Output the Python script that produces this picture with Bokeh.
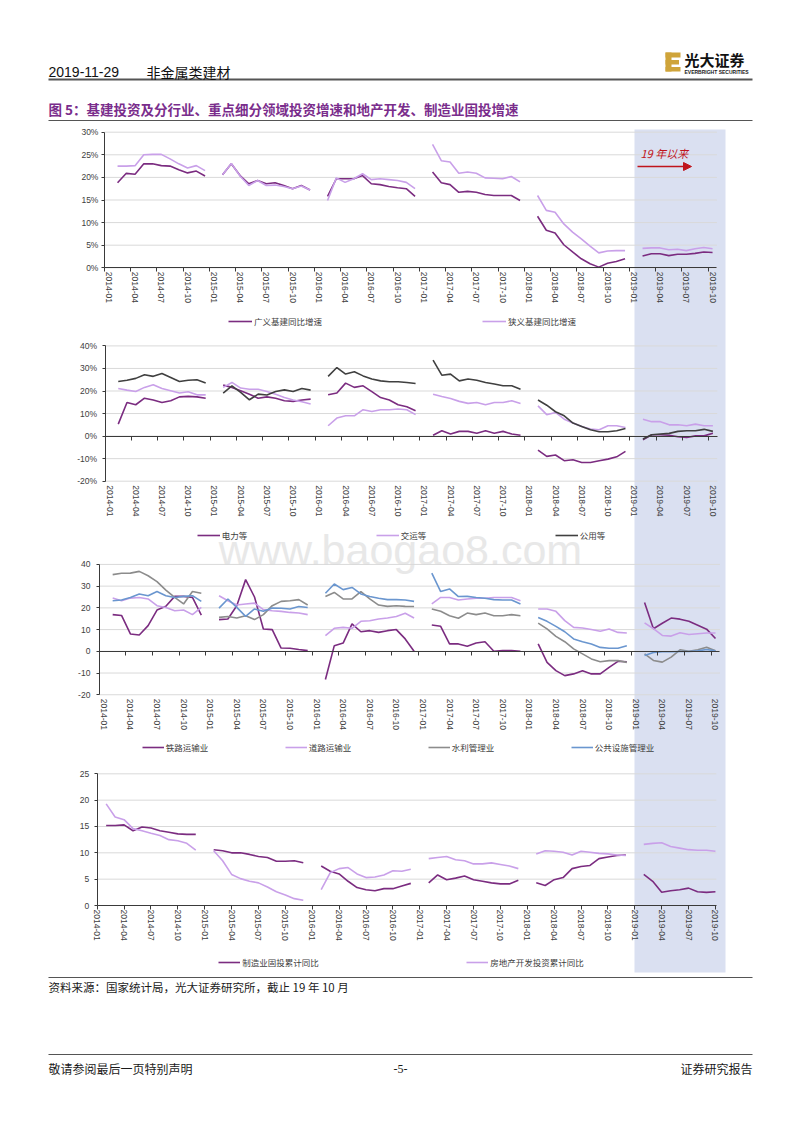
import numpy as np
import pandas as pd
from bokeh.plotting import figure
from bokeh.models import (Range1d, LinearAxis, FixedTicker, PrintfTickFormatter, Legend,
                          LegendItem, Label, BoxAnnotation, Arrow, NormalHead)
from bokeh.embed import file_html
from bokeh.resources import INLINE

# ---------------------------------------------------------------- data
# Month labels on the category axis (January figures are not published,
# so every yearly block below runs Feb..Dec, and 2019 runs Feb..Oct).
MONTHS = [m.strftime("%Y-%m") for m in pd.period_range("2014-01", "2019-10", freq="M")]

# Panel 1: infrastructure investment, YoY %
INFRA_BROAD = [
    [18.8, 20.9, 20.7, 23.0, 23.0, 22.6, 22.5, 21.7, 21.0, 21.4, 20.3],
    [20.6, 23.0, 20.4, 18.6, 19.3, 18.6, 18.8, 18.2, 17.5, 18.2, 17.2],
    [15.8, 19.7, 19.7, 19.7, 20.4, 18.6, 18.4, 18.0, 17.7, 17.5, 15.8],
    [21.2, 18.8, 18.4, 16.7, 16.9, 16.7, 16.2, 16.0, 16.0, 16.0, 14.9],
    [11.4, 8.3, 7.7, 5.1, 3.5, 2.0, 0.9, 0.15, 1.0, 1.4, 2.0],
    [2.6, 3.1, 3.1, 2.7, 3.0, 3.0, 3.2, 3.5, 3.4],
]
INFRA_NARROW = [
    [22.5, 22.5, 22.6, 25.0, 25.1, 25.1, 24.1, 23.0, 22.1, 22.6, 21.5],
    [20.6, 23.1, 20.3, 18.2, 19.3, 18.2, 18.3, 18.0, 17.5, 18.1, 17.2],
    [14.9, 19.9, 18.9, 19.7, 20.8, 19.5, 19.7, 19.5, 19.3, 18.9, 17.5],
    [27.3, 23.7, 23.4, 20.9, 21.2, 20.9, 19.9, 19.8, 19.7, 20.2, 19.0],
    [16.0, 12.7, 12.3, 9.7, 7.9, 6.4, 4.8, 3.3, 3.7, 3.8, 3.8],
    [4.3, 4.4, 4.4, 4.0, 4.1, 3.8, 4.2, 4.5, 4.2],
]

# Panel 2: sub-sectors, YoY %
POWER = [
    [5.3, 14.9, 13.9, 16.8, 16.0, 14.9, 15.7, 17.4, 17.6, 17.4, 16.8],
    [22.6, 21.6, 20.1, 18.6, 16.8, 17.4, 16.8, 15.7, 15.4, 16.0, 16.4],
    [18.3, 19.1, 23.5, 21.6, 22.3, 19.7, 17.1, 16.0, 13.9, 13.0, 11.2],
    [0.4, 2.4, 0.9, 2.1, 2.1, 1.3, 2.4, 1.3, 2.1, 0.9, 0.4],
    [-6.2, -9.0, -8.4, -10.9, -10.5, -11.7, -11.7, -10.9, -10.2, -9.2, -6.8],
    [-1.6, 0.6, 0.6, 0.4, -0.3, -0.6, 0.1, 0.1, 1.3],
]
TRANSPORT = [
    [21.1, 20.4, 19.8, 21.6, 22.8, 21.1, 20.1, 19.1, 19.7, 18.3, 18.3],
    [21.6, 23.8, 21.3, 20.8, 20.8, 19.8, 18.6, 17.1, 16.0, 15.2, 14.2],
    [4.6, 8.0, 9.0, 9.0, 11.7, 10.9, 11.7, 11.7, 12.0, 11.7, 9.5],
    [18.6, 17.6, 16.7, 15.4, 14.5, 14.9, 13.9, 14.9, 14.9, 15.7, 14.5],
    [13.4, 9.5, 10.5, 7.5, 5.8, 4.3, 3.1, 2.8, 4.6, 4.6, 3.8],
    [7.5, 6.4, 6.4, 5.0, 5.0, 4.6, 5.3, 4.6, 4.6],
]
UTILITIES = [
    [24.2, 24.8, 25.6, 27.2, 26.5, 27.8, 26.0, 24.2, 24.8, 25.0, 23.5],
    [19.1, 22.3, 19.4, 16.1, 18.6, 18.2, 19.8, 20.5, 19.8, 21.1, 20.4],
    [26.5, 30.4, 27.5, 28.5, 26.7, 25.3, 24.5, 24.1, 24.1, 23.8, 23.3],
    [33.7, 27.0, 27.5, 24.5, 25.3, 24.8, 23.8, 23.1, 22.3, 22.3, 20.8],
    [16.0, 13.7, 10.8, 9.0, 5.8, 4.3, 2.8, 1.9, 1.9, 2.4, 3.4],
    [-1.3, 0.6, 0.9, 1.2, 2.1, 2.4, 2.4, 3.0, 2.1],
]

# Panel 3: key segments, YoY %
RAILWAY = [
    [16.9, 16.5, 8.0, 7.5, 11.8, 19.0, 20.7, 25.3, 25.3, 24.8, 16.7],
    [14.6, 14.9, 21.0, 33.0, 25.0, 10.3, 10.0, 1.5, 1.4, 0.8, 0.3],
    [-13.0, 2.6, 3.8, 12.6, 9.0, 9.5, 8.7, 9.5, 10.0, 5.7, 0.0],
    [12.1, 11.5, 3.4, 3.4, 2.3, 3.8, 4.4, 0.0, 0.3, 0.3, 0.0],
    [3.4, -5.1, -8.9, -11.2, -10.4, -8.9, -10.4, -10.4, -7.4, -4.6, -4.8],
    [22.5, 10.4, 12.9, 15.3, 14.8, 13.8, 12.0, 10.2, 5.9],
]
ROAD = [
    [24.5, 23.3, 24.5, 24.8, 24.1, 21.0, 20.2, 18.7, 19.0, 16.9, 20.2],
    [25.6, 23.3, 21.3, 21.8, 22.2, 19.2, 18.7, 18.4, 17.9, 17.6, 16.9],
    [7.2, 10.6, 11.0, 10.6, 13.8, 14.1, 14.9, 15.3, 16.0, 17.5, 15.3],
    [21.8, 24.8, 24.8, 23.6, 24.1, 24.5, 24.4, 24.8, 24.8, 24.8, 23.3],
    [19.5, 19.5, 18.4, 14.1, 11.0, 10.7, 10.0, 9.2, 10.3, 8.7, 8.4],
    [13.1, 10.4, 7.3, 7.0, 8.5, 7.7, 8.1, 8.4, 8.4],
]
WATER = [
    [35.3, 35.9, 36.0, 36.8, 34.8, 32.1, 28.2, 24.8, 21.8, 27.5, 26.7],
    [15.6, 16.0, 15.3, 16.4, 14.6, 16.9, 21.0, 23.0, 23.3, 23.8, 21.3],
    [25.2, 27.1, 24.1, 24.1, 27.5, 24.1, 21.3, 20.7, 21.0, 20.7, 20.6],
    [19.5, 18.4, 16.4, 15.2, 17.6, 16.9, 17.6, 16.4, 16.4, 16.9, 16.4],
    [13.0, 10.3, 6.9, 4.4, 1.1, -1.2, -3.5, -4.8, -4.3, -4.3, -5.1],
    [-1.2, -4.2, -5.0, -2.7, 0.7, 0.0, 0.7, 1.9, 0.3],
]
PUBLIC_FAC = [
    [23.3, 23.6, 24.8, 26.4, 25.6, 27.5, 25.6, 24.8, 25.3, 25.6, 23.0],
    [19.9, 24.1, 20.2, 16.1, 19.5, 18.4, 19.9, 19.8, 19.5, 20.6, 20.2],
    [26.7, 31.0, 28.4, 29.4, 26.4, 25.2, 24.4, 23.8, 23.8, 23.6, 23.0],
    [36.0, 27.5, 28.7, 25.2, 25.3, 24.8, 24.4, 23.8, 23.6, 23.6, 21.8],
    [15.6, 13.8, 11.5, 9.0, 5.7, 4.4, 3.4, 1.8, 1.4, 1.4, 2.6],
    [-1.9, -0.5, -0.2, -0.2, -0.1, -0.1, 0.2, 0.8, 0.2],
]

# Panel 4: cumulative YoY %
MANUFACTURING = [
    [15.2, 15.2, 15.3, 14.2, 14.9, 14.7, 14.2, 13.9, 13.6, 13.5, 13.5],
    [10.6, 10.4, 10.0, 10.0, 9.7, 9.3, 9.1, 8.4, 8.4, 8.5, 8.1],
    [7.5, 6.5, 6.0, 4.6, 3.4, 3.0, 2.8, 3.2, 3.2, 3.7, 4.2],
    [4.3, 5.8, 4.9, 5.2, 5.6, 4.9, 4.6, 4.3, 4.1, 4.1, 4.8],
    [4.3, 3.8, 4.9, 5.3, 7.0, 7.4, 7.6, 8.9, 9.2, 9.5, 9.6],
    [5.9, 4.6, 2.5, 2.8, 3.0, 3.3, 2.6, 2.5, 2.6],
]
REAL_ESTATE = [
    [19.3, 16.8, 16.3, 14.6, 14.2, 13.7, 13.3, 12.5, 12.3, 11.8, 10.5],
    [10.4, 8.5, 5.9, 5.1, 4.6, 4.3, 3.5, 2.6, 2.0, 1.3, 1.0],
    [3.0, 6.2, 7.0, 7.2, 6.0, 5.3, 5.4, 5.8, 6.6, 6.5, 6.9],
    [8.9, 9.1, 9.3, 8.7, 8.5, 7.9, 7.9, 8.1, 7.8, 7.5, 7.0],
    [9.8, 10.4, 10.3, 10.1, 9.6, 10.3, 10.1, 9.9, 9.8, 9.6, 9.5],
    [11.6, 11.8, 11.9, 11.2, 10.9, 10.6, 10.5, 10.5, 10.3],
]

Y_TICKS_1 = [0, 5, 10, 15, 20, 25, 30]
Y_TICKS_2 = [-20, -10, 0, 10, 20, 30, 40]
Y_TICKS_3 = [-20, -10, 0, 10, 20, 30, 40]
Y_TICKS_4 = [0, 5, 10, 15, 20, 25]


def monthly(years):
    """Flatten yearly blocks into one series; January stays empty (gap)."""
    out = []
    for vals in years:
        out.append(None)
        out.extend(vals)
    return np.array(out, dtype=float)


IDX = np.arange(len(MONTHS))

# ---------------------------------------------------------------- styling
DARK_PURPLE = "#7b2c80"
LIGHT_PURPLE = "#c9a0e9"
DARK_GREY = "#404040"
MID_GREY = "#8c8c8c"
BLUE = "#6a96cf"
GRID = "#d9d9d9"
AXIS = "#3a3a3a"
TXT = "#404040"
GOLD = "#cfa43a"
NUM_FONT = "Liberation Sans"
CJK_FONT = "Noto Sans CJK SC"
W, H = 800, 1132

p = figure(width=W, height=H, x_range=Range1d(0, W), y_range=Range1d(H, 0),
           x_axis_type=None, y_axis_type=None, toolbar_location=None,
           output_backend="svg", min_border=0, outline_line_color=None,
           background_fill_color="white", border_fill_color="white")

# 2019 highlight band (behind everything)
p.add_layout(BoxAnnotation(left=634, right=725, top=129, bottom=972,
                           fill_color="#dae0f1", fill_alpha=1.0, line_color=None,
                           level="underlay"))

p.add_layout(Label(x=400, y=549, text="www.baogao8.com", text_align="center",
                   text_baseline="middle", text_font=NUM_FONT, text_font_size="43px",
                   text_color="#e8e8e8", level="underlay"))

# panel geometry: month i -> x0 + pitch*i px ; value v -> y0 - ppu*v px
LAYOUT = {
    "1": dict(x0=108.3, pitch=8.75, y0=267.3, ppu=4.52),
    "2": dict(x0=109.0, pitch=8.745, y0=435.6, ppu=2.255),
    "3": dict(x0=103.3, pitch=8.865, y0=650.8, ppu=2.172),
    "4": dict(x0=96.7, pitch=8.96, y0=905.0, ppu=5.267),
}
for k, g in LAYOUT.items():
    p.extra_x_ranges["x" + k] = Range1d(-g["x0"] / g["pitch"], (W - g["x0"]) / g["pitch"])
    p.extra_y_ranges["y" + k] = Range1d((g["y0"] - H) / g["ppu"], g["y0"] / g["ppu"])

LABEL_TICKS = list(range(0, len(MONTHS), 3))


def panel_axes(k, yticks, yfmt, ax_x, x_end, boundary_ticks, label_at, y_standoff):
    xr, yr = "x" + k, "y" + k
    # horizontal gridlines
    n = len(yticks)
    p.segment(x0=[ax_x] * n, x1=[x_end] * n, y0=yticks, y1=yticks,
              x_range_name=xr, y_range_name=yr, line_color=GRID, line_width=1)
    # x axis line with tick marks at the zero line
    tick_pos = [t - 0.5 for t in LABEL_TICKS] if boundary_ticks else LABEL_TICKS
    xa = LinearAxis(x_range_name=xr, y_range_name=yr, fixed_location=0,
                    ticker=FixedTicker(ticks=tick_pos), bounds=(ax_x, x_end),
                    formatter=PrintfTickFormatter(format=""),
                    axis_line_color=AXIS, axis_line_width=1,
                    major_tick_line_color=AXIS, major_tick_out=4, major_tick_in=0,
                    minor_tick_line_color=None)
    p.add_layout(xa, "below")
    # month labels along the bottom of the panel
    xl = LinearAxis(x_range_name=xr, y_range_name=yr, fixed_location=label_at,
                    ticker=FixedTicker(ticks=LABEL_TICKS),
                    major_label_overrides={i: MONTHS[i] for i in LABEL_TICKS},
                    axis_line_color=None, major_tick_line_color=None,
                    minor_tick_line_color=None, major_tick_out=0, major_tick_in=0,
                    major_label_orientation="vertical", major_label_standoff=4,
                    major_label_text_font=NUM_FONT, major_label_text_font_size="8.5px",
                    major_label_text_color=TXT)
    p.add_layout(xl, "below")
    ya = LinearAxis(x_range_name=xr, y_range_name=yr, fixed_location=ax_x,
                    ticker=FixedTicker(ticks=yticks), bounds=(min(yticks), max(yticks)),
                    formatter=PrintfTickFormatter(format=yfmt),
                    axis_line_color=AXIS, axis_line_width=1,
                    major_tick_line_color=AXIS, major_tick_out=3, major_tick_in=0,
                    minor_tick_line_color=None, major_label_standoff=y_standoff,
                    major_label_text_font=NUM_FONT, major_label_text_font_size="8.5px",
                    major_label_text_color=TXT)
    p.add_layout(ya, "left")


def panel_lines(k, series):
    rs = []
    for name, data, color in series:
        r = p.line(IDX, monthly(data), x_range_name="x" + k, y_range_name="y" + k,
                   line_color=color, line_width=1.6)
        rs.append((name, r))
    return rs


def panel_legend(rs, x, y_center, glyph_w, pitch):
    item_h = 12
    leg = Legend(items=[LegendItem(label=n, renderers=[r]) for n, r in rs],
                 orientation="horizontal", location=(x, H - y_center - item_h / 2),
                 glyph_width=glyph_w, glyph_height=item_h, label_height=item_h,
                 label_width=int(round(pitch - glyph_w - 2)), label_standoff=2, spacing=0,
                 padding=0, margin=0, border_line_color=None, background_fill_alpha=0,
                 label_text_font=CJK_FONT, label_text_font_size="8.5px",
                 label_text_color=TXT)
    p.add_layout(leg)


# Panel 1
panel_axes("1", Y_TICKS_1, "%d%%", -0.5, 69.5, True, 0, 3)
r1 = panel_lines("1", [("广义基建同比增速", INFRA_BROAD, DARK_PURPLE),
                       ("狭义基建同比增速", INFRA_NARROW, LIGHT_PURPLE)])
panel_legend(r1, 228, 321, 24, 253.7)

# Panel 2
panel_axes("2", Y_TICKS_2, "%d%%", -0.5, 69.5, True, -20, 5)
r2 = panel_lines("2", [("电力等", POWER, DARK_PURPLE),
                       ("交运等", TRANSPORT, LIGHT_PURPLE),
                       ("公用等", UTILITIES, DARK_GREY)])
panel_legend(r2, 196.7, 535, 23, 178.7)

# Panel 3
panel_axes("3", Y_TICKS_3, "%d", -0.5, 69.5, True, -20, 6)
r3 = panel_lines("3", [("铁路运输业", RAILWAY, DARK_PURPLE),
                       ("道路运输业", ROAD, LIGHT_PURPLE),
                       ("水利管理业", WATER, MID_GREY),
                       ("公共设施管理业", PUBLIC_FAC, BLUE)])
panel_legend(r3, 141.7, 746.7, 22, 143.3)

# Panel 4
panel_axes("4", Y_TICKS_4, "%d", 0, 69.1, False, 0, 5)
r4 = panel_lines("4", [("制造业固投累计同比", MANUFACTURING, DARK_PURPLE),
                       ("房地产开发投资累计同比", REAL_ESTATE, LIGHT_PURPLE)])
panel_legend(r4, 218.3, 961.7, 22, 247.7)

# "since 2019" note with arrow
p.add_layout(Label(x=640, y=152, text="19 年以来", text_font=CJK_FONT,
                   text_font_style="italic", text_font_size="11px", text_color="#c0141c",
                   text_baseline="middle"))
p.add_layout(Arrow(end=NormalHead(size=8, fill_color="#c0141c", line_color="#c0141c"),
                   x_start=637, y_start=166, x_end=691, y_end=166,
                   line_color="#c0141c", line_width=1.5))

# ---------------------------------------------------------------- page furniture
rules_y = [79, 120, 977, 1054]
p.segment(x0=[48] * 4, x1=[752] * 4, y0=rules_y, y1=rules_y,
          line_color="#555555", line_width=[1.8, 1.2, 1.2, 1.2])

p.add_layout(Label(x=48, y=71, text="2019-11-29", text_font=NUM_FONT,
                   text_font_size="14px", text_color="#111111", text_baseline="middle"))
p.add_layout(Label(x=146, y=71, text="非金属类建材", text_font=CJK_FONT,
                   text_font_size="14px", text_color="#111111", text_baseline="middle"))

# company mark: gold block "E" beside the name
p.quad(left=[665, 665, 665, 665], right=[671, 680, 678.5, 680],
       top=[52, 52, 59.5, 66.5], bottom=[71, 57, 64, 71],
       fill_color=GOLD, line_color=None)
p.add_layout(Label(x=684, y=59, text="光大证券", text_font=CJK_FONT,
                   text_font_style="bold", text_font_size="15px", text_color="#111111",
                   text_baseline="middle"))
p.add_layout(Label(x=684, y=71.5, text="EVERBRIGHT SECURITIES", text_font=NUM_FONT,
                   text_font_style="bold", text_font_size="5px", text_color="#1a1a1a",
                   text_baseline="middle"))

p.add_layout(Label(x=48, y=108,
                   text="图 5：基建投资及分行业、重点细分领域投资增速和地产开发、制造业固投增速",
                   text_font=CJK_FONT, text_font_style="bold", text_font_size="13.5px",
                   text_color="#7a2d8c", text_baseline="middle"))

p.add_layout(Label(x=48, y=986, text="资料来源：国家统计局，光大证券研究所，截止 19 年 10 月",
                   text_font=CJK_FONT, text_font_size="11.5px", text_color="#1a1a1a",
                   text_baseline="middle"))

p.add_layout(Label(x=48, y=1068, text="敬请参阅最后一页特别声明", text_font=CJK_FONT,
                   text_font_size="12px", text_color="#1a1a1a", text_baseline="middle"))
p.add_layout(Label(x=400, y=1068, text="-5-", text_font="Liberation Serif",
                   text_font_size="12px", text_color="#1a1a1a", text_baseline="middle",
                   text_align="center"))
p.add_layout(Label(x=752, y=1068, text="证券研究报告", text_font=CJK_FONT,
                   text_font_size="12px", text_color="#1a1a1a", text_baseline="middle",
                   text_align="right"))

open("out.html", "w").write(file_html(p, INLINE))
